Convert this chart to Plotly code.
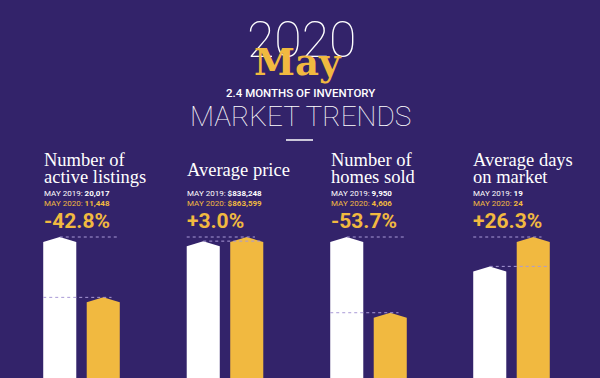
import plotly.graph_objects as go

# ---------------- data ----------------
title_line1 = ["Number of", "Average price", "Number of", "Average days"]
title_line2 = ["active listings", "", "homes sold", "on market"]
labels_2019 = ["20,017", "$838,248", "9,950", "19"]
labels_2020 = ["11,448", "$863,599", "4,606", "24"]
values_2019 = [20017, 838248, 9950, 19]
values_2020 = [11448, 863599, 4606, 24]
pct_change = ["-42.8%", "+3.0%", "-53.7%", "+26.3%"]
header_year = "2020"
header_month = "May"
header_sub = "2.4 MONTHS OF INVENTORY"
header_title = "MARKET TRENDS"

# ---------------- style / layout ----------------
W, H = 600, 378
BG = "#33236a"
GOLD = "#f1b940"
WHITE = "#ffffff"
DOT = "#a99ad6"
panel_left_px = [38, 181.5, 325, 468]
panel_w_px = 87
text_left_px = [42, 185, 329, 471]
bar_half = 0.38
peak_px = 141          # pixel height of the taller bar in each pair
dom_top = 0.40          # y-domain top of bar axes
roof_px = 5             # pixel height of the pointed roof

def px(x):
    return x / W

def py(y):
    return 1 - y / H

fig = go.Figure()
layout_axes = {}

for i in range(4):
    sfx = "" if i == 0 else str(i + 1)
    xa, ya = "x" + sfx, "y" + sfx
    vmax = max(values_2019[i], values_2020[i])
    yr = vmax * (dom_top * H) / peak_px
    roof = vmax * roof_px / peak_px
    for xc, v, col in [(0, values_2019[i], WHITE), (1, values_2020[i], GOLD)]:
        xs = [xc - bar_half, xc - bar_half, xc, xc + bar_half, xc + bar_half, xc - bar_half]
        ys = [0, v - roof, v, v - roof, 0, 0]
        fig.add_trace(go.Scatter(x=xs, y=ys, xaxis=xa, yaxis=ya, mode="lines",
                                 line=dict(width=0, color=col), fill="toself",
                                 fillcolor=col, hoverinfo="skip", showlegend=False))
    # dotted reference lines
    fig.add_trace(go.Scatter(x=[0, 1 + bar_half], y=[values_2019[i]] * 2, xaxis=xa, yaxis=ya,
                             mode="lines", line=dict(width=1, color=DOT, dash="dot"),
                             hoverinfo="skip", showlegend=False))
    fig.add_trace(go.Scatter(x=[-bar_half, 1 + bar_half * 0.5], y=[values_2020[i]] * 2, xaxis=xa, yaxis=ya,
                             mode="lines", line=dict(width=1, color=DOT, dash="dot"),
                             hoverinfo="skip", showlegend=False))
    x0 = px(panel_left_px[i])
    x1 = px(panel_left_px[i] + panel_w_px)
    layout_axes["xaxis" + sfx] = dict(domain=[x0, x1], range=[-0.5, 1.5], visible=False,
                                      fixedrange=True, anchor=ya)
    layout_axes["yaxis" + sfx] = dict(domain=[0, dom_top], range=[0, yr], visible=False,
                                      fixedrange=True, anchor=xa)

ann = []
# header
ann.append(dict(text=header_year, x=px(301), y=py(40), xanchor="center", yanchor="middle",
                font=dict(family="Roboto", size=50, color=WHITE, weight=100)))
ann.append(dict(text=header_month, x=px(298), y=py(62), xanchor="center", yanchor="middle",
                font=dict(family="DejaVu Serif", size=37, color=GOLD, weight=700)))
ann.append(dict(text=header_sub, x=px(300), y=py(93), xanchor="center", yanchor="middle",
                font=dict(family="Roboto", size=11.5, color=WHITE, weight=500)))
ann.append(dict(text=header_title, x=px(300), y=py(116), xanchor="center", yanchor="middle",
                font=dict(family="Roboto", size=28, color=WHITE, weight=100)))

for i in range(4):
    xl = px(text_left_px[i])
    if title_line2[i]:
        ann.append(dict(text=title_line1[i], x=xl, y=py(160), xanchor="left", yanchor="middle",
                        font=dict(family="Liberation Serif", size=18.5, color=WHITE)))
        ann.append(dict(text=title_line2[i], x=xl, y=py(177), xanchor="left", yanchor="middle",
                        font=dict(family="Liberation Serif", size=18.5, color=WHITE)))
    else:
        ann.append(dict(text=title_line1[i], x=xl, y=py(170), xanchor="left", yanchor="middle",
                        font=dict(family="Liberation Serif", size=18.5, color=WHITE)))
    ann.append(dict(text="MAY 2019: <b>" + labels_2019[i] + "</b>", x=xl, y=py(193),
                    xanchor="left", yanchor="middle",
                    font=dict(family="Roboto", size=8, color=WHITE)))
    ann.append(dict(text="MAY 2020: <b>" + labels_2020[i] + "</b>", x=xl, y=py(203),
                    xanchor="left", yanchor="middle",
                    font=dict(family="Roboto", size=8, color=GOLD)))
    ann.append(dict(text="<b>" + pct_change[i] + "</b>", x=xl, y=py(221),
                    xanchor="left", yanchor="middle",
                    font=dict(family="Roboto", size=21, color=GOLD)))

for a in ann:
    a.update(xref="paper", yref="paper", showarrow=False)

fig.update_layout(
    width=W, height=H,
    margin=dict(l=0, r=0, t=0, b=0),
    paper_bgcolor=BG, plot_bgcolor=BG,
    annotations=ann,
    shapes=[dict(type="line", xref="paper", yref="paper", x0=px(286), x1=px(313),
                 y0=py(140), y1=py(140), line=dict(color=WHITE, width=1.5))],
    showlegend=False,
    **layout_axes,
)

fig.write_html("out.html", config={"displayModeBar": False},
               post_script="document.body.style.margin='0';document.body.style.padding='0';"
                           "document.body.style.background='" + BG + "';")
